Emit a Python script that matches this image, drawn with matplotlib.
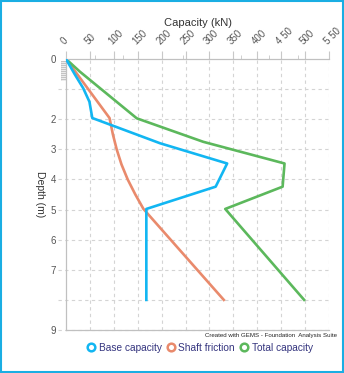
import matplotlib
matplotlib.use("Agg")
import matplotlib.pyplot as plt
from matplotlib.lines import Line2D
from matplotlib.patches import Rectangle

plt.rcParams["font.family"] = ["Liberation Sans", "DejaVu Sans"]

# Capacity profiles along the pile (depth in m, capacity in kN)
base_depth = [0, 0.5, 0.97, 1.42, 1.96, 2.8, 3.47, 4.24, 4.98, 8.0]
base_kn = [0, 18, 36, 49, 55, 197, 337, 313, 168, 168]

shaft_depth = [0, 1.96, 2.5, 3.0, 3.5, 4.0, 4.5, 4.98, 8.0]
shaft_kn = [0, 91, 98, 106, 116, 129, 145, 162, 330]

total_depth = [0, 0.42, 1.97, 2.75, 3.47, 4.24, 4.98, 8.0]
total_kn = [0, 29, 148, 287, 457, 453, 333, 498]

x_ticks = [0, 50, 100, 150, 200, 250, 300, 350, 400, 450, 500, 550]
x_tick_labels = ["0", "50", "100", "150", "200", "250", "300", "350", "400", "4 50", "500", "5 50"]
x_minor = [60, 120, 245, 365, 425, 485]
y_ticks = [0, 1, 2, 3, 4, 5, 6, 7, 8, 9]
y_tick_labels = ["0", "", "2", "3", "4", "5", "6", "7", "", "9"]

series_names = ["Base capacity", "Shaft friction", "Total capacity"]
series_colors = ["#12b6f2", "#e98a6c", "#5cb85c"]

W, H = 344, 373
fig = plt.figure(figsize=(W / 100, H / 100), dpi=100)
ax = fig.add_axes([66 / W, 1 - 330 / H, (329 - 66) / W, (330 - 59) / H])

grid_kw = dict(color="#d4d4d4", lw=0.8, ls=(0, (3, 3)), zorder=0)
for xv in x_ticks[1:]:
    ax.axvline(xv, **grid_kw)
for yv in y_ticks[1:]:
    ax.plot([-17, 550], [yv, yv], clip_on=False, **grid_kw)

lw = 1.9
ax.plot(base_kn, base_depth, color=series_colors[0], lw=lw, zorder=3)
ax.plot(shaft_kn, shaft_depth, color=series_colors[1], lw=lw, zorder=2)
ax.plot(total_kn, total_depth, color=series_colors[2], lw=lw, zorder=2)

# striped pile marker just left of the depth axis
ax.add_patch(Rectangle((-10, 0.05), 9.5, 0.68, facecolor="#c4c4c4", edgecolor="none",
                       clip_on=False, zorder=1))
for k in range(10):
    yy = 0.09 + k * 0.068
    ax.plot([-10, -0.5], [yy, yy], color="white", lw=0.5, clip_on=False, zorder=1)

ax.set_xlim(0, 550)
ax.set_ylim(9, 0)
ax.xaxis.tick_top()
ax.xaxis.set_label_position("top")
ax.set_xticks(x_ticks)
ax.set_xticklabels(x_tick_labels, rotation=45, ha="left", rotation_mode="anchor",
                   fontsize=7, color="#555555")
ax.set_xticks(x_minor, minor=True)
ax.tick_params(axis="x", which="major", length=6, color="#c8c8c8", pad=3)
ax.tick_params(axis="x", which="minor", length=3, color="#c8c8c8")
ax.set_yticks(y_ticks)
ax.set_yticklabels(y_tick_labels, fontsize=7, color="#555555")
ax.tick_params(axis="y", length=0, pad=7)

for side in ["top", "left", "bottom"]:
    ax.spines[side].set_color("#c0c0c0")
    ax.spines[side].set_linewidth(0.9)
ax.spines["right"].set_visible(False)

ax.set_xlabel("Capacity (kN)", fontsize=8, color="#333333")
ax.set_ylabel("Depth (m)", fontsize=7.5, color="#333333", rotation=270)
ax.yaxis.label.set_va("center")
ax.yaxis.label.set_ha("center")
ax.yaxis.set_label_coords(-(66 - 40) / 263, 0.5)
ax.xaxis.label.set_va("center")
ax.xaxis.set_label_coords(0.5, 1.0 + (59 - 23) / 271)

fig.text(337 / W, 1 - 336 / H, "Created with GEMS - Foundation  Analysis Suite",
         fontsize=4.4, color="#222222", ha="right", va="center")

handles = [Line2D([], [], ls="none", marker="o", markersize=5.5, markerfacecolor="white",
                  markeredgecolor=c, markeredgewidth=1.8) for c in series_colors]
fig.legend(handles, series_names, loc="center", bbox_to_anchor=(200 / W, 1 - 348 / H), ncol=3,
           frameon=False, fontsize=7.3, labelcolor="#35357f", handletextpad=0.35,
           columnspacing=0.5, handlelength=0.8, borderpad=0)

fig.patches.append(Rectangle((0.002, 0.002), 0.996, 0.996, transform=fig.transFigure,
                             fill=False, edgecolor="#1aaee3", lw=1.5))

fig.savefig("out.png", dpi=100)
